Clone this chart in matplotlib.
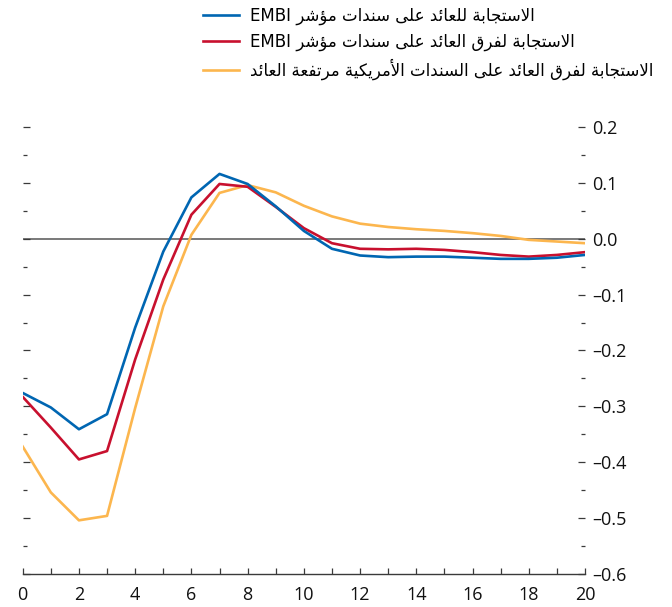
import re
import matplotlib
matplotlib.use("Agg")
import matplotlib.pyplot as plt
from matplotlib.ticker import FixedLocator, MultipleLocator

# --- data -------------------------------------------------------------
quarters = list(range(0, 21))
embi_yield = [-0.276, -0.302, -0.341, -0.314, -0.159, -0.023, 0.074, 0.116, 0.098,
              0.058, 0.014, -0.018, -0.030, -0.033, -0.032, -0.032, -0.034,
              -0.036, -0.036, -0.034, -0.029]
embi_spread = [-0.283, -0.338, -0.395, -0.380, -0.216, -0.073, 0.043, 0.098, 0.093,
               0.057, 0.019, -0.008, -0.018, -0.019, -0.018, -0.020, -0.024,
               -0.029, -0.032, -0.029, -0.024]
us_hy_spread = [-0.372, -0.454, -0.504, -0.496, -0.303, -0.121, 0.007, 0.082, 0.096,
                0.083, 0.059, 0.040, 0.027, 0.021, 0.017, 0.014, 0.010,
                0.005, -0.002, -0.005, -0.008]
series_labels = [
    "الاستجابة للعائد على سندات مؤشر EMBI",
    "الاستجابة لفرق العائد على سندات مؤشر EMBI",
    "الاستجابة لفرق العائد على السندات الأمريكية مرتفعة العائد",
]
y_ticks = [-0.6, -0.5, -0.4, -0.3, -0.2, -0.1, 0.0, 0.1, 0.2]
x_ticks = [0, 2, 4, 6, 8, 10, 12, 14, 16, 18, 20]

# --- Arabic contextual shaping (presentation forms) + visual ordering ---
DUAL = {'ب': 0xFE8F, 'ت': 0xFE95, 'ج': 0xFE9D, 'س': 0xFEB1, 'ش': 0xFEB5,
        'ع': 0xFEC9, 'ف': 0xFED1, 'ق': 0xFED5, 'ك': 0xFED9, 'ل': 0xFEDD,
        'م': 0xFEE1, 'ن': 0xFEE5, 'ه': 0xFEE9, 'ي': 0xFEF1, 'ئ': 0xFE89}
RIGHT = {'ا': 0xFE8D, 'أ': 0xFE83, 'ؤ': 0xFE85, 'ة': 0xFE93, 'د': 0xFEA9,
         'ر': 0xFEAD, 'ى': 0xFEEF}
LAMALEF = {'ا': (0xFEFB, 0xFEFC), 'أ': (0xFEF7, 0xFEF8)}


def shape(s):
    out, i, n = [], 0, len(s)
    while i < n:
        c = s[i]
        if c not in DUAL and c not in RIGHT:
            out.append(c)
            i += 1
            continue
        prev_joins = i > 0 and s[i - 1] in DUAL
        if c == 'ل' and i + 1 < n and s[i + 1] in LAMALEF:
            iso, fin = LAMALEF[s[i + 1]]
            out.append(chr(fin if prev_joins else iso))
            i += 2
            continue
        next_joins = c in DUAL and i + 1 < n and (s[i + 1] in DUAL or s[i + 1] in RIGHT)
        base = DUAL.get(c, RIGHT.get(c))
        if prev_joins and next_joins:
            off = 3
        elif prev_joins:
            off = 1
        elif next_joins:
            off = 2
        else:
            off = 0
        out.append(chr(base + off))
        i += 1
    return "".join(out)


def rtl(s):
    runs = re.findall(r'[A-Za-z0-9]+|[^A-Za-z0-9]+', shape(s))
    runs = [r if re.match(r'[A-Za-z0-9]', r) else r[::-1] for r in runs]
    return "".join(runs[::-1])


# --- figure -----------------------------------------------------------
BLUE, RED, YELLOW = "#0066b2", "#c8102e", "#fcb64e"
AXIS = "#3a3a3a"

fig = plt.figure(figsize=(6.72, 6.07), dpi=100)
ax = fig.add_axes([0.0338, 0.0544, 0.8367, 0.7364])

ax.axhline(0, color="#555555", lw=1.1, zorder=1)
l1, = ax.plot(quarters, embi_yield, color=BLUE, lw=1.9, zorder=4)
l2, = ax.plot(quarters, embi_spread, color=RED, lw=1.9, zorder=3)
l3, = ax.plot(quarters, us_hy_spread, color=YELLOW, lw=1.9, zorder=2)

ax.set_xlim(0, 20)
ax.set_ylim(-0.6, 0.2)

for side in ("top", "left", "right"):
    ax.spines[side].set_visible(False)
ax.spines["bottom"].set_color(AXIS)
ax.spines["bottom"].set_linewidth(1.0)

tick_font = dict(family="Open Sans", size=13)

ax.xaxis.set_major_locator(FixedLocator(x_ticks))
ax.xaxis.set_minor_locator(MultipleLocator(1))
ax.set_xticklabels([str(v) for v in x_ticks], **tick_font, color="#111111")
ax.tick_params(axis="x", which="both", direction="in", length=4.5, width=0.9,
               color=AXIS, pad=8.5)

ax.yaxis.set_major_locator(FixedLocator(y_ticks))
ax.yaxis.set_minor_locator(MultipleLocator(0.05))
ax.set_yticklabels([f"{v:.1f}".replace("-", "–") for v in y_ticks], **tick_font,
                   color="#111111")
ax.tick_params(axis="y", which="major", direction="in", length=5.2, width=0.9,
               color=AXIS, left=True, right=True, labelleft=False, labelright=True,
               pad=5)
ax.tick_params(axis="y", which="minor", direction="in", length=2.6, width=0.9,
               color=AXIS, left=True, right=True)

leg = fig.legend([l1, l2, l3], [rtl(t) for t in series_labels],
                 loc="upper left", bbox_to_anchor=(0.302, 0.989),
                 frameon=False, prop=dict(family="DejaVu Sans", size=12),
                 handlelength=2.15, handletextpad=0.65, labelspacing=0.45,
                 borderaxespad=0, borderpad=0)

fig.savefig("out.png", dpi=100)
